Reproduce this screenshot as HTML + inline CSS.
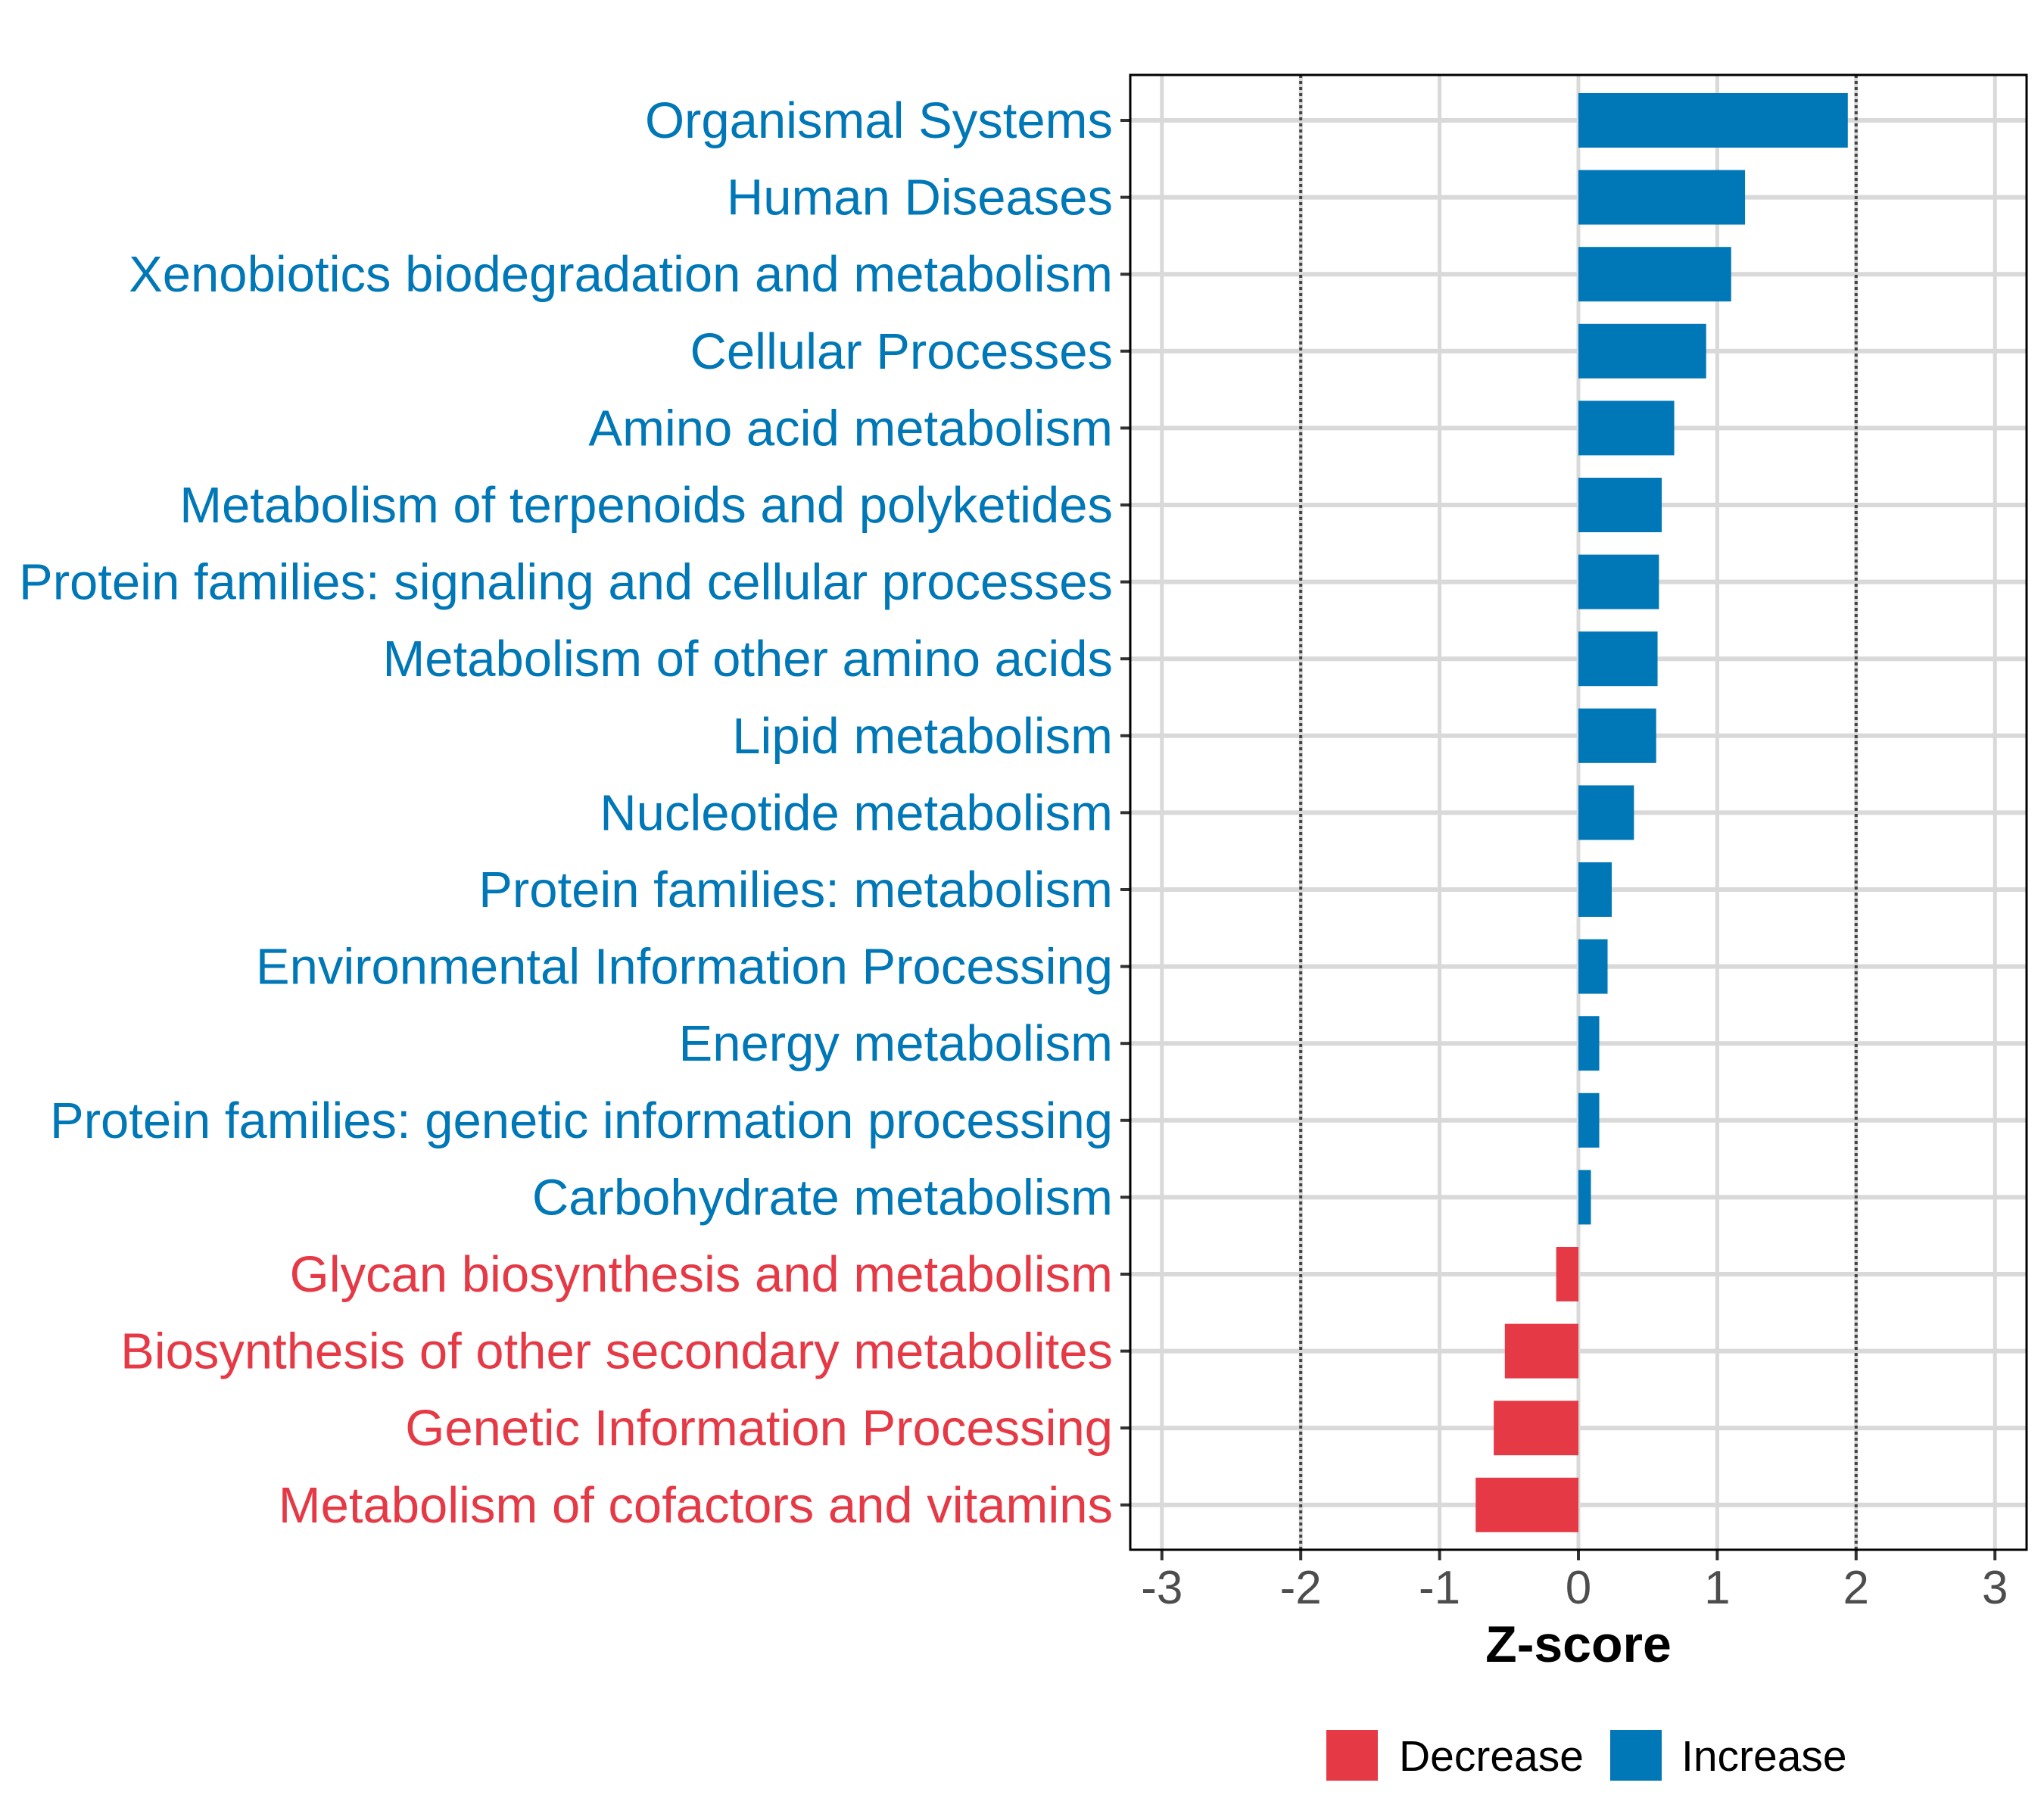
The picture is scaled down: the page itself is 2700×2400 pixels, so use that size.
<!DOCTYPE html>
<html><head><meta charset="utf-8"><style>
html,body{margin:0;padding:0;background:#fff}
svg{display:block}
text{font-family:"Liberation Sans",Arial,sans-serif}
</style></head><body>
<svg id="chart" width="2700" height="2400" viewBox="0 0 2700 2400" xmlns="http://www.w3.org/2000/svg">
<rect x="0" y="0" width="2700" height="2400" fill="#fff"/>
<g id="grid"></g>
<g id="bars"></g>
<g id="labels"></g>
<g id="xaxis"></g>
<rect x="1493" y="99" width="1184" height="1948" fill="none" stroke="#000" stroke-width="3"/>
<text x="2085" y="2195" font-size="68" font-weight="bold" text-anchor="middle">Z-score</text>
<g>
<rect x="1752" y="2285" width="68" height="67" fill="#E63946"/>
<text x="1848" y="2339" font-size="57">Decrease</text>
<rect x="2127" y="2285" width="68" height="67" fill="#0077B6"/>
<text x="2221" y="2339" font-size="57">Increase</text>
</g>
</svg>
<script>
const categories = ["Organismal Systems","Human Diseases","Xenobiotics biodegradation and metabolism","Cellular Processes","Amino acid metabolism","Metabolism of terpenoids and polyketides","Protein families: signaling and cellular processes","Metabolism of other amino acids","Lipid metabolism","Nucleotide metabolism","Protein families: metabolism","Environmental Information Processing","Energy metabolism","Protein families: genetic information processing","Carbohydrate metabolism","Glycan biosynthesis and metabolism","Biosynthesis of other secondary metabolites","Genetic Information Processing","Metabolism of cofactors and vitamins"];
const zscores = [1.94,1.20,1.10,0.92,0.69,0.60,0.58,0.57,0.56,0.40,0.24,0.21,0.15,0.15,0.09,-0.16,-0.53,-0.61,-0.74];
const xTicks = [-3,-2,-1,0,1,2,3];
const xTickLabels = ["-3","-2","-1","0","1","2","3"];
const thresholds = [-2,2];

const NS = "http://www.w3.org/2000/svg";
const BLUE = "#0077B6", RED = "#E63946";
const x0 = 2085, unit = 183.4;
function xScale(v){ return x0 + v*unit; }
const yTop = 159, yStep = 101.6, barH = 72;
function yScale(i){ return yTop + i*yStep; }
function mk(tag, attrs, parent){
  const e = document.createElementNS(NS, tag);
  for (const k in attrs) e.setAttribute(k, attrs[k]);
  parent.appendChild(e); return e;
}
const grid = document.getElementById('grid');
const bars = document.getElementById('bars');
const labels = document.getElementById('labels');
const xaxis = document.getElementById('xaxis');

xTicks.forEach((t,i)=>{
  const g = mk('line',{x1:xScale(t),x2:xScale(t),y1:99,y2:2047,stroke:'#d9d9d9','stroke-width':5},grid);
  
  
  const tk = mk('line',{x1:xScale(t),x2:xScale(t),y1:2047,y2:2061,stroke:'#333','stroke-width':4},xaxis);
  
  
  const tl = mk('text',{x:xScale(t),y:2118,'font-size':62,fill:'#4d4d4d','text-anchor':'middle'},xaxis);
  tl.textContent = xTickLabels[i];
  
  
});
categories.forEach((c,i)=>{
  const y = yScale(i);
  const g = mk('line',{x1:1493,x2:2677,y1:y,y2:y,stroke:'#d9d9d9','stroke-width':6},grid);
  
  
});
thresholds.forEach(t=>{
  const d = mk('line',{x1:xScale(t),x2:xScale(t),y1:99,y2:2047,stroke:'#444','stroke-width':4,'stroke-dasharray':'4 4'},grid);
  
  
});
categories.forEach((c,i)=>{
  const v = zscores[i];
  const y = yScale(i);
  const col = v >= 0 ? BLUE : RED;
  const xa = Math.min(xScale(0), xScale(v)), xb = Math.max(xScale(0), xScale(v));
  const r = mk('rect',{x:xa,y:y-barH/2,width:xb-xa,height:barH,fill:col},bars);
  
  
  const tk = mk('line',{x1:1480,x2:1493,y1:y,y2:y,stroke:'#333','stroke-width':4},labels);
  
  
  const t = mk('text',{x:1470,y:y+23,'font-size':67,fill:col,'text-anchor':'end'},labels);
  t.textContent = c;
  
  
});
</script>
</body></html>
